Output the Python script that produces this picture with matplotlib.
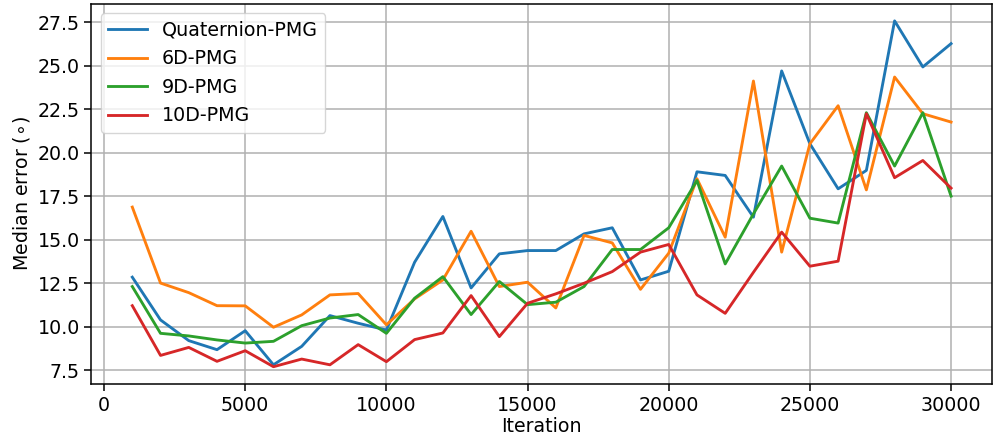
import matplotlib
matplotlib.use("Agg")
import matplotlib.pyplot as plt
import numpy as np

iterations = np.arange(1000, 30001, 1000)

quaternion_pmg = [12.84, 10.38, 9.19, 8.67, 9.76, 7.80, 8.86, 10.63, 10.19, 9.80,
                  13.70, 16.33, 12.22, 14.18, 14.37, 14.37, 15.33, 15.68, 12.68, 13.18,
                  18.90, 18.69, 16.29, 24.70, 20.51, 17.92, 18.98, 27.58, 24.93, 26.27]
pmg_6d = [16.87, 12.50, 11.95, 11.20, 11.19, 9.96, 10.67, 11.82, 11.90, 10.10,
          11.59, 12.68, 15.48, 12.30, 12.55, 11.07, 15.24, 14.81, 12.14, 14.22,
          18.50, 15.14, 24.12, 14.28, 20.51, 22.70, 17.86, 24.35, 22.24, 21.76]
pmg_9d = [12.30, 9.61, 9.46, 9.23, 9.05, 9.15, 10.05, 10.49, 10.69, 9.61,
          11.63, 12.87, 10.69, 12.59, 11.26, 11.40, 12.30, 14.43, 14.43, 15.68,
          18.40, 13.60, 16.48, 19.23, 16.23, 15.95, 22.30, 19.23, 22.30, 17.50]
pmg_10d = [11.20, 8.34, 8.80, 8.00, 8.61, 7.69, 8.13, 7.80, 8.96, 7.98,
           9.25, 9.63, 11.78, 9.42, 11.34, 11.88, 12.49, 13.16, 14.28, 14.72,
           11.82, 10.76, 13.12, 15.43, 13.47, 13.76, 22.24, 18.56, 19.55, 17.96]

# everything scaled up ~1.37x from the matplotlib defaults
s = 1.37
plt.rcParams.update({
    "font.size": 10 * s,
    "lines.linewidth": 1.5 * s,
    "axes.linewidth": 0.8 * s,
    "grid.linewidth": 0.8 * s,
    "xtick.major.size": 3.5 * s,
    "ytick.major.size": 3.5 * s,
    "xtick.major.width": 0.8 * s,
    "ytick.major.width": 0.8 * s,
})

fig, ax = plt.subplots(figsize=(9.93, 4.46), dpi=100)
fig.subplots_adjust(left=0.092, right=0.999, bottom=0.139, top=0.992)

ax.plot(iterations, quaternion_pmg, label="Quaternion-PMG")
ax.plot(iterations, pmg_6d, label="6D-PMG")
ax.plot(iterations, pmg_9d, label="9D-PMG")
ax.plot(iterations, pmg_10d, label="10D-PMG")

ax.set_xlabel("Iteration", labelpad=2)
ax.set_ylabel(r"Median error ($\circ$)", labelpad=4)
ax.grid(True)
ax.legend(loc="upper left")

fig.savefig("out.png", dpi=100)
